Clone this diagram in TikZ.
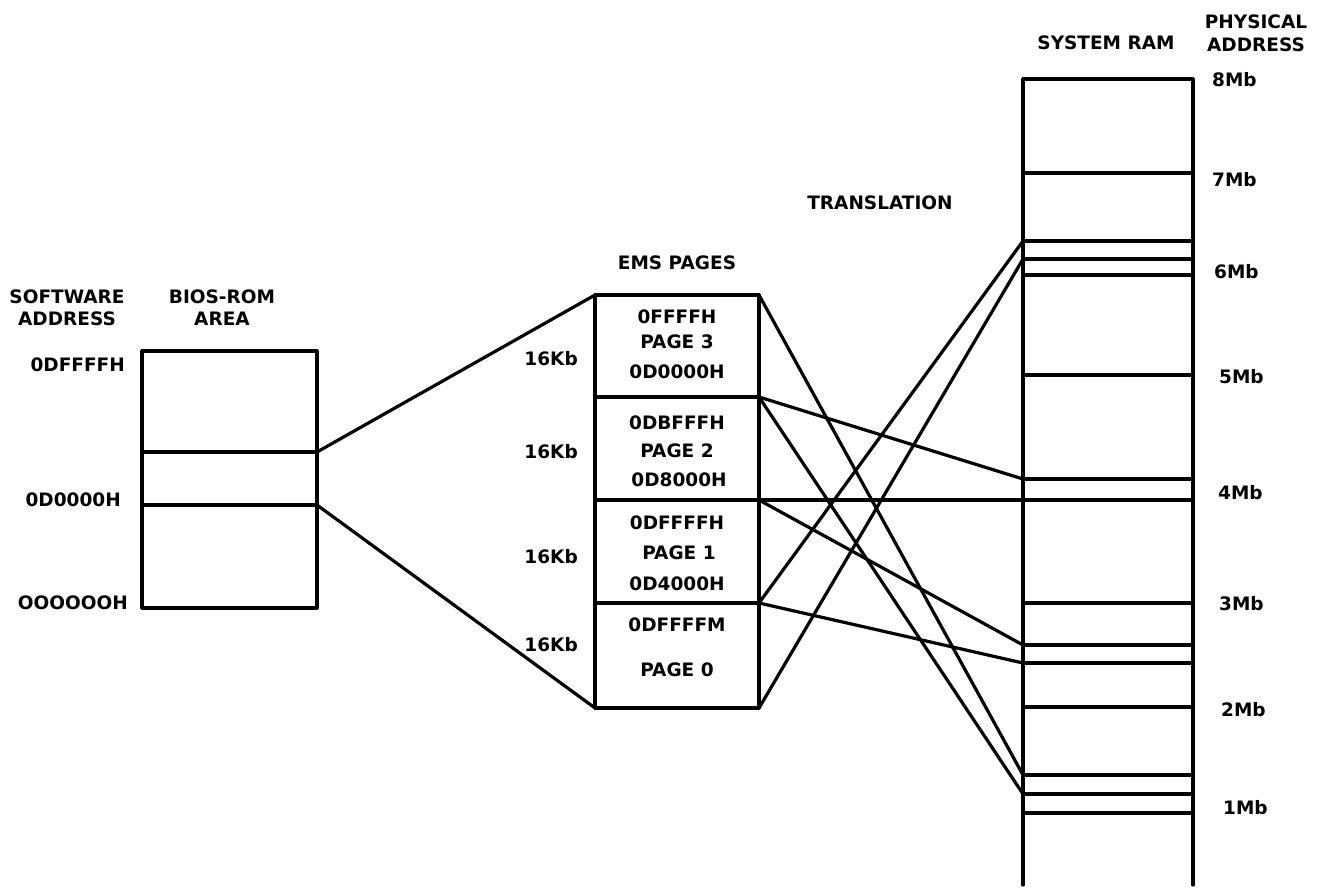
\documentclass[tikz,border=0pt]{standalone}
\usepackage{fontspec}
\setmainfont{DejaVu Sans}
\begin{document}
\begin{tikzpicture}[x=1pt,y=-1pt,
  lbl/.style={font=\fontsize{18.5}{20}\selectfont\bfseries, inner sep=0pt},
  boxline/.style={line width=3.2pt, line cap=round, line join=round},
  conn/.style={line width=3.2pt, line cap=round}]
\useasboundingbox (0,0) rectangle (1317,888);

% ---------- BIOS-ROM area ----------
\coordinate (biosTL) at (142,351);
\coordinate (biosBR) at (317,608);
\draw[boxline] (biosTL) rectangle (biosBR);
\coordinate (bA) at (317,452);
\coordinate (bB) at (317,505);
\draw[boxline] (142,452) -- (bA);
\draw[boxline] (142,505) -- (bB);

\node[lbl] (sw1) at (67,297) {SOFTWARE};
\node[lbl] (sw2) at (67,319) {ADDRESS};
\node[lbl] (br1) at (222,297) {BIOS-ROM};
\node[lbl] (br2) at (222,319) {AREA};
\node[lbl,anchor=east] (a1) at (125,365) {0DFFFFH};
\node[lbl,anchor=east] (a2) at (121,500) {0D0000H};
\node[lbl,anchor=east] (a3) at (128,603) {OOOOOOH};

% ---------- EMS pages ----------
\coordinate (eTL) at (595,295);
\coordinate (eTR) at (759,295);
\coordinate (eBL) at (595,708);
\coordinate (eBR) at (759,708);
\coordinate (e3) at (759,397);
\coordinate (e2) at (759,500);
\coordinate (e1) at (759,603);
\draw[boxline] (eTL) rectangle (eBR);
\draw[boxline] (595,397) -- (e3);
\draw[boxline] (595,500) -- (e2);
\draw[boxline] (595,603) -- (e1);

\node[lbl] (ems) at (677,263) {EMS PAGES};
\node[lbl] (p3a) at (677,317) {0FFFFH};
\node[lbl] (p3b) at (677,342) {PAGE 3};
\node[lbl] (p3c) at (677,372) {0D0000H};
\node[lbl] (p2a) at (677,423) {0DBFFFH};
\node[lbl] (p2b) at (677,451) {PAGE 2};
\node[lbl] (p2c) at (679,480) {0D8000H};
\node[lbl] (p1a) at (677,523) {0DFFFFH};
\node[lbl] (p1b) at (679,553) {PAGE 1};
\node[lbl] (p1c) at (677,584) {0D4000H};
\node[lbl] (p0a) at (677,625) {0DFFFFM};
\node[lbl] (p0b) at (677,670) {PAGE 0};

\node[lbl,anchor=east] (k3) at (578,359) {16Kb};
\node[lbl,anchor=east] (k2) at (578,452) {16Kb};
\node[lbl,anchor=east] (k1) at (578,557) {16Kb};
\node[lbl,anchor=east] (k0) at (578,645) {16Kb};

% ---------- System RAM ----------
\draw[boxline] (1023,885) -- (1023,79) -- (1193,79) -- (1193,885);
\foreach \yy/\nm in {173/r7, 241/r61, 259/r62, 275/r63, 375/r5, 479/r41, 500/r42,
                     603/r3, 645/r21, 663/r22, 707/r2, 775/r11, 794/r12, 813/r13}{
  \coordinate (\nm) at (1023,\yy);
  \draw[boxline] (\nm) -- (1193,\yy);
}

\node[lbl] (sram) at (1106,43) {SYSTEM RAM};
\node[lbl] (ph1) at (1256,22) {PHYSICAL};
\node[lbl] (ph2) at (1256,45) {ADDRESS};
\node[lbl,anchor=west] (m8) at (1212,80) {8Mb};
\node[lbl,anchor=west] (m7) at (1212,180) {7Mb};
\node[lbl,anchor=west] (m6) at (1214,272) {6Mb};
\node[lbl,anchor=west] (m5) at (1219,377) {5Mb};
\node[lbl,anchor=west] (m4) at (1218,493) {4Mb};
\node[lbl,anchor=west] (m3) at (1219,604) {3Mb};
\node[lbl,anchor=west] (m2) at (1221,710) {2Mb};
\node[lbl,anchor=west] (m1) at (1223,808) {1Mb};

\node[lbl] (tr) at (880,203) {TRANSLATION};

% ---------- connectors ----------
\draw[conn] (bA) -- (eTL);
\draw[conn] (bB) -- (eBL);

\draw[conn] (eTR) -- (r11);
\draw[conn] (e3) -- (r41);
\draw[conn] (e3) -- (r12);
\draw[conn] (e2) -- (r42);
\draw[conn] (e2) -- (r21);
\draw[conn] (e1) -- (r61);
\draw[conn] (e1) -- (r22);
\draw[conn] (eBR) -- (r62);
\end{tikzpicture}
\end{document}
